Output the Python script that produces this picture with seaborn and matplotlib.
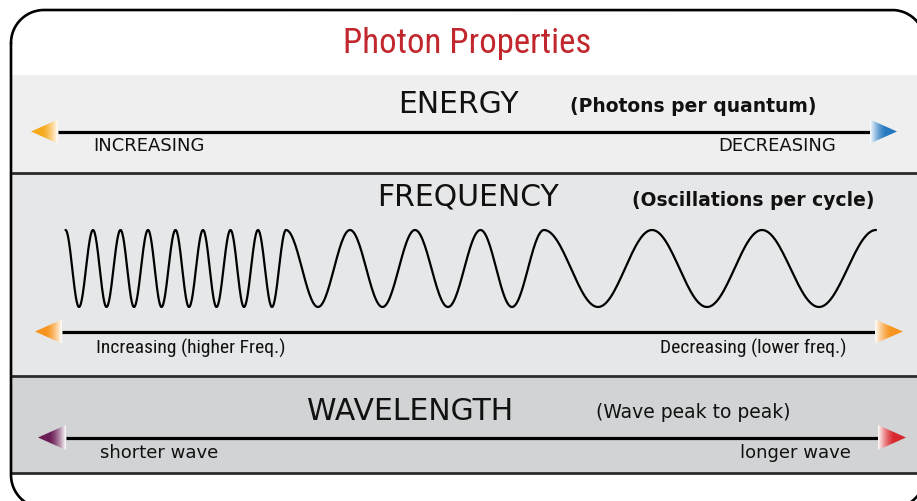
import matplotlib
matplotlib.use("Agg")
import matplotlib.pyplot as plt
import numpy as np
import pandas as pd
import seaborn as sns
from matplotlib.colors import to_rgb
from matplotlib.patches import Polygon, Rectangle

# --- content ------------------------------------------------------------
TITLE = "Photon Properties"

ROW_NAMES = ["ENERGY", "FREQUENCY", "WAVELENGTH"]
ROW_SUBTITLES = ["(Photons per quantum)", "(Oscillations per cycle)", "(Wave peak to peak)"]
LEFT_LABELS = ["INCREASING", "Increasing (higher Freq.)", "shorter wave"]
RIGHT_LABELS = ["DECREASING", "Decreasing (lower freq.)", "longer wave"]
LEFT_COLORS = ["#f6aa1c", "#f7941e", "#6b1d55"]
RIGHT_COLORS = ["#2479c0", "#f7941e", "#d9272e"]
BAND_COLORS = ["#efefef", "#e6e7e8", "#d1d3d4"]

# wave crests and troughs (x positions, pixels)
WAVE_PEAKS = [65.5, 93, 120.5, 148, 175.5, 203, 230.5, 258, 286,
              350, 415, 480.5, 544, 652, 762, 876]
WAVE_TROUGHS = [79, 106.5, 134, 161.5, 189, 216.5, 244, 272,
                318, 382.5, 448, 512, 598, 707, 819]

# --- layout (pixel coordinates, y down) ---------------------------------
W, H = 917, 501
FRAME = (11, 10, 925, 508)   # left, top, right, bottom
RADIUS = 33
BAND_EDGES = [75, 173, 376, 473]
ARROW_Y = [131.5, 331.5, 437.5]
ARROW_LEFT = [(31, 58), (35, 62), (38, 66)]     # tip, base
ARROW_RIGHT = [(897, 870), (903, 875), (906, 878)]
ARROW_HALF = [12, 12, 12.5]
HEAD_Y = [104, 197, 411]
HEAD_X = [458, 468, 410]
SUB_RIGHT = [817, 875, 790]
SUB_Y = [106, 200, 413]
LAB_Y = [146, 348, 453]
LAB_LEFT = [93, 96, 100]
LAB_RIGHT = [836, 846, 851]
WAVE_TOP, WAVE_BOTTOM = 230, 307

sns.set_theme(style="white")
plt.rcParams["font.family"] = ["DejaVu Sans"]
NARROW = ["Roboto Condensed", "Open Sans Condensed", "Liberation Sans Narrow", "Roboto", "DejaVu Sans"]


def gradient_head(ax, tip, base, yc, half, color):
    x0, x1 = min(tip, base), max(tip, base)
    tri = Polygon([(tip, yc), (base, yc - half), (base, yc + half)],
                  closed=True, facecolor="none", edgecolor="none")
    ax.add_patch(tri)
    t = np.linspace(0, 1, 128)  # 0 at tip, 1 at base
    w = np.clip((t - 0.4) / 0.6, 0, 1) ** 1.5
    c = np.array(to_rgb(color))
    rgb = c[None, :] * (1 - w[:, None]) + w[:, None]
    if tip > base:
        rgb = rgb[::-1]
    img = ax.imshow(rgb[None, :, :], extent=(x0, x1, yc + half, yc - half),
                    aspect="auto", interpolation="bilinear", zorder=4)
    img.set_clip_path(tri)


def frame_path():
    l, t, r, b = FRAME
    corners = [((l + RADIUS, t + RADIUS), 180, 90), ((r - RADIUS, t + RADIUS), 90, 0),
               ((r - RADIUS, b - RADIUS), 0, -90), ((l + RADIUS, b - RADIUS), -90, -180)]
    xs, ys = [], []
    for (cx, cy), a0, a1 in corners:
        a = np.radians(np.linspace(a0, a1, 40))
        xs.extend(cx + RADIUS * np.cos(a))
        ys.extend(cy - RADIUS * np.sin(a))
    xs.append(xs[0])
    ys.append(ys[0])
    return xs, ys


def wave_frame():
    xs, ys = [], []
    ext = sorted([(p, WAVE_TOP) for p in WAVE_PEAKS] + [(q, WAVE_BOTTOM) for q in WAVE_TROUGHS])
    for (xa, ya), (xb, yb) in zip(ext[:-1], ext[1:]):
        t = np.linspace(0, 1, 30, endpoint=False)
        xs.extend(xa + (xb - xa) * t)
        ys.extend(ya + (yb - ya) * (1 - np.cos(np.pi * t)) / 2)
    xs.append(ext[-1][0])
    ys.append(ext[-1][1])
    return pd.DataFrame({"x": xs, "y": ys})


fig = plt.figure(figsize=(W / 100, H / 100), dpi=100)
ax = fig.add_axes([0, 0, 1, 1])

# bands
for i, col in enumerate(BAND_COLORS):
    ax.add_patch(Rectangle((FRAME[0], BAND_EDGES[i]), W, BAND_EDGES[i + 1] - BAND_EDGES[i],
                           facecolor=col, edgecolor="none", zorder=1))
for y in BAND_EDGES[1:]:
    ax.plot([FRAME[0], W], [y, y], color="#2b2b2b", lw=2.0, zorder=2, solid_capstyle="butt")

# outer rounded frame
fx, fy = frame_path()
ax.plot(fx, fy, color="black", lw=1.9, zorder=5)

ax.text(467, 43, TITLE, color="#c1272d", fontsize=25, family=NARROW,
        fontweight="normal", ha="center", va="center", zorder=6)

for i in range(3):
    y = ARROW_Y[i]
    ax.plot([ARROW_LEFT[i][1], ARROW_RIGHT[i][1]], [y, y], color="black",
            lw=2.3, zorder=3, solid_capstyle="butt")
    gradient_head(ax, ARROW_LEFT[i][0], ARROW_LEFT[i][1], y, ARROW_HALF[i], LEFT_COLORS[i])
    gradient_head(ax, ARROW_RIGHT[i][0], ARROW_RIGHT[i][1], y, ARROW_HALF[i], RIGHT_COLORS[i])

    ax.text(HEAD_X[i], HEAD_Y[i], ROW_NAMES[i], fontsize=21.5, color="#111111",
            ha="center", va="center", zorder=6)
    ax.text(SUB_RIGHT[i], SUB_Y[i], ROW_SUBTITLES[i], fontsize=13.5,
            fontweight="normal" if i == 2 else "bold", color="#111111",
            ha="right", va="center", zorder=6)

    lab_kw = dict(color="#111111", va="center", zorder=6)
    if i == 1:
        lab_kw.update(family=NARROW, fontsize=14, fontweight="normal")
    else:
        lab_kw.update(fontsize=13)
    ax.text(LAB_LEFT[i], LAB_Y[i], LEFT_LABELS[i], ha="left", **lab_kw)
    ax.text(LAB_RIGHT[i], LAB_Y[i], RIGHT_LABELS[i], ha="right", **lab_kw)

sns.lineplot(data=wave_frame(), x="x", y="y", sort=False, estimator=None,
             color="black", lw=1.6, ax=ax, zorder=4)

ax.set_xlim(0, W)
ax.set_ylim(H, 0)
ax.axis("off")
fig.savefig("out.png", dpi=100, facecolor="white")
